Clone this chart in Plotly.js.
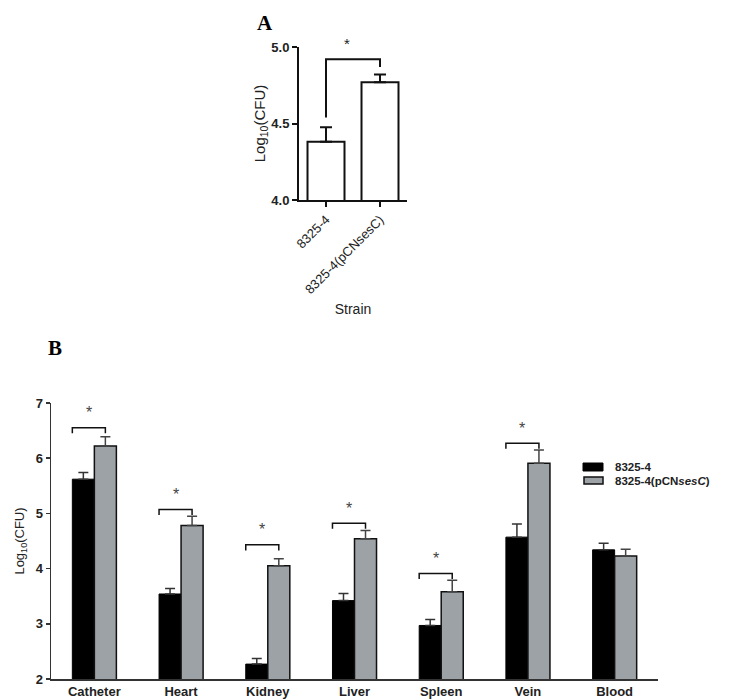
<!DOCTYPE html>
<html>
<head>
<meta charset="utf-8">
<script src="https://cdn.plot.ly/plotly-3.0.1.min.js"></script>
<style>
  html, body { margin: 0; padding: 0; background: #fff; }
  #chart { width: 729px; height: 700px; }
</style>
</head>
<body>
<div id="chart"></div>
<script>
// panel A: catheter biofilm, two strains
var strains = ["8325-4", "8325-4(pCNsesC)"];
var strainMean = [4.38, 4.77];
var strainErr = [0.095, 0.05];
var strainSig = {top: 4.92, leftFoot: 4.54, rightFoot: 4.87};

// panel B: organs
var organs = ["Catheter", "Heart", "Kidney", "Liver", "Spleen", "Vein", "Blood"];
var seriesNames = ["8325-4", "8325-4(pCN<i>sesC</i>)"];
var wtMean = [5.62, 3.54, 2.27, 3.42, 2.97, 4.57, 4.34];
var wtErr = [0.12, 0.10, 0.10, 0.13, 0.11, 0.24, 0.12];
var ovMean = [6.22, 4.78, 4.05, 4.54, 3.58, 5.91, 4.23];
var ovErr = [0.17, 0.17, 0.13, 0.15, 0.21, 0.24, 0.12];
var sigY = [6.55, 5.07, 4.43, 4.82, 3.91, 6.27, null];

var FONT = "Liberation Sans, Arial, sans-serif";
var SERIF = "Liberation Serif, Times New Roman, serif";
var BAR_W = 0.254;
var W = 729, H = 700;

// panel A plot box (px)
var A_Y0 = 200, A_Y1 = 47;

function idx(arr) { return arr.map(function (d, i) { return i; }); }
function zeros(arr) { return arr.map(function () { return 0; }); }

var traceA = {
    x: idx(strains), y: strainMean, type: 'bar', xaxis: 'x', yaxis: 'y',
    width: 0.685, showlegend: false,
    marker: {color: '#ffffff', line: {color: '#111', width: 2}},
    error_y: {type: 'data', symmetric: false, array: strainErr, arrayminus: zeros(strainErr),
        color: '#111', thickness: 2, width: 6}
};

var traceWt = {
    x: idx(organs), y: wtMean, type: 'bar', xaxis: 'x2', yaxis: 'y2',
    name: seriesNames[0], offset: -BAR_W, width: BAR_W, showlegend: false,
    marker: {color: '#000000', line: {color: '#000', width: 1}},
    error_y: {type: 'data', symmetric: false, array: wtErr, arrayminus: zeros(wtErr),
        color: '#333', thickness: 1.5, width: 5}
};

var traceOv = {
    x: idx(organs), y: ovMean, type: 'bar', xaxis: 'x2', yaxis: 'y2',
    name: seriesNames[1], offset: 0, width: BAR_W, showlegend: false,
    marker: {color: '#9ca2a5', line: {color: '#111', width: 1.5}},
    error_y: {type: 'data', symmetric: false, array: ovErr, arrayminus: zeros(ovErr),
        color: '#444', thickness: 1.5, width: 5}
};

var shapes = [
    {type: 'path', xref: 'x', yref: 'y', line: {color: '#111', width: 2},
        path: 'M0,' + strainSig.leftFoot + ' L0,' + strainSig.top + ' L1,' + strainSig.top + ' L1,' + strainSig.rightFoot},
    // legend swatches
    {type: 'rect', xref: 'paper', yref: 'paper', x0: 583 / W, x1: 603 / W, y0: 1 - 471 / H, y1: 1 - 463 / H,
        fillcolor: '#000', line: {color: '#000', width: 1}},
    {type: 'rect', xref: 'paper', yref: 'paper', x0: 584 / W, x1: 603 / W, y0: 1 - 484 / H, y1: 1 - 477 / H,
        fillcolor: '#9ca2a5', line: {color: '#111', width: 1.5}}
];

var annotations = [
    {xref: 'paper', yref: 'paper', x: 347 / W,
        y: 1 - A_Y0 / H + (strainSig.top + 0.1 - 4) * (A_Y0 - A_Y1) / H,
        xanchor: 'center', yanchor: 'middle', text: '*', showarrow: false,
        font: {family: FONT, size: 15, color: '#222'}},
    {xref: 'paper', yref: 'paper', x: 265 / W, y: 1 - 23 / H, xanchor: 'center', yanchor: 'middle',
        text: '<b>A</b>', showarrow: false, font: {family: SERIF, size: 21, color: '#000'}},
    {xref: 'paper', yref: 'paper', x: 55 / W, y: 1 - 348 / H, xanchor: 'center', yanchor: 'middle',
        text: '<b>B</b>', showarrow: false, font: {family: SERIF, size: 21, color: '#000'}},
    {xref: 'paper', yref: 'paper', x: 613 / W, y: 1 - 467 / H, xanchor: 'left', yanchor: 'middle',
        text: '<b>' + seriesNames[0] + '</b>', showarrow: false, font: {family: FONT, size: 11.5, color: '#222'}},
    {xref: 'paper', yref: 'paper', x: 613 / W, y: 1 - 481 / H, xanchor: 'left', yanchor: 'middle',
        text: '<b>' + seriesNames[1] + '</b>', showarrow: false, font: {family: FONT, size: 11.5, color: '#222'}}
];

sigY.forEach(function (y, i) {
    if (y === null) return;
    var x0 = i - BAR_W, x1 = i + BAR_W / 2;
    shapes.push({type: 'path', xref: 'x2', yref: 'y2', line: {color: '#111', width: 1.5},
        path: 'M' + x0 + ',' + (y - 0.1) + ' L' + x0 + ',' + y + ' L' + x1 + ',' + y + ' L' + x1 + ',' + (y - 0.1)});
    annotations.push({xref: 'x2', yref: 'y2', x: (x0 + x1) / 2, y: y + 0.27, text: '*', showarrow: false,
        font: {family: FONT, size: 16, color: '#444'}});
});

var layout = {
    width: W, height: H,
    margin: {l: 0, r: 0, t: 0, b: 0},
    paper_bgcolor: '#ffffff', plot_bgcolor: 'rgba(0,0,0,0)',
    barmode: 'overlay', showlegend: false,
    font: {family: FONT, color: '#222'},
    xaxis: {
        domain: [299 / W, 407 / W], anchor: 'y', range: [-0.5, 1.5],
        tickvals: idx(strains), ticktext: strains, tickangle: -45,
        tickfont: {size: 13, color: '#222'},
        showline: true, linecolor: '#111', linewidth: 2, ticks: 'outside', ticklen: 5, tickwidth: 2, tickcolor: '#111',
        showgrid: false, zeroline: false,
        title: {text: 'Strain', font: {size: 14, color: '#222'}, standoff: 8}
    },
    yaxis: {
        domain: [1 - A_Y0 / H, 1 - A_Y1 / H], anchor: 'x', range: [4, 5],
        tickvals: [4, 4.5, 5], ticktext: ['<b>4.0</b>', '<b>4.5</b>', '<b>5.0</b>'],
        tickfont: {size: 13, color: '#222'},
        showline: true, linecolor: '#111', linewidth: 2, ticks: 'outside', ticklen: 5, tickwidth: 2, tickcolor: '#111',
        showgrid: false, zeroline: false,
        title: {text: 'Log<sub>10</sub>(CFU)', font: {size: 15, color: '#222'}, standoff: 2}
    },
    xaxis2: {
        domain: [51 / W, 658 / W], anchor: 'y2', range: [-0.5, 6.5],
        tickvals: idx(organs), ticktext: organs.map(function (o) { return '<b>' + o + '</b>'; }),
        tickfont: {size: 13, color: '#222'},
        showline: true, linecolor: '#333', linewidth: 1.5, ticks: '',
        showgrid: false, zeroline: false
    },
    yaxis2: {
        domain: [1 - 679 / H, 1 - 403 / H], anchor: 'x2', range: [2, 7],
        tickvals: [2, 3, 4, 5, 6, 7], ticktext: ['<b>2</b>', '<b>3</b>', '<b>4</b>', '<b>5</b>', '<b>6</b>', '<b>7</b>'],
        tickfont: {size: 13, color: '#222'},
        showline: true, linecolor: '#333', linewidth: 1.5, ticks: 'outside', ticklen: 4, tickwidth: 1.5, tickcolor: '#333',
        showgrid: false, zeroline: false,
        title: {text: 'Log<sub>10</sub>(CFU)', font: {size: 13, color: '#222'}, standoff: 8}
    },
    shapes: shapes,
    annotations: annotations
};

Plotly.newPlot('chart', [traceA, traceWt, traceOv], layout, {displayModeBar: false, staticPlot: true});
</script>
</body>
</html>
